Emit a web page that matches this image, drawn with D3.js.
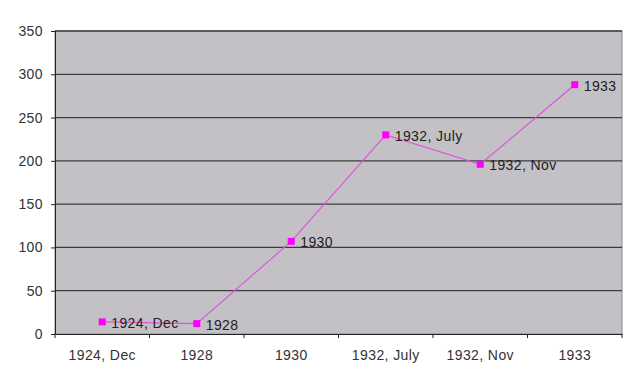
<!DOCTYPE html>
<html>
<head>
<meta charset="utf-8">
<script src="https://cdn.jsdelivr.net/npm/d3@7"></script>
<style>
  body { margin: 0; background: #fff; }
  text { font-family: "Liberation Sans", Arial, sans-serif; letter-spacing: 0.4px; }
</style>
</head>
<body>
<div class="graph"></div>
<script>
const categories = ['1924, Dec', '1928', '1930', '1932, July', '1932, Nov', '1933'];
const seats = [14, 12, 107, 230, 196, 288];
const yTicks = [0, 50, 100, 150, 200, 250, 300, 350];

const margin = {top: 31, right: 18, bottom: 54, left: 55},
    width = 640 - margin.left - margin.right,
    height = 388 - margin.top - margin.bottom;

const records = categories.map((c, i) => ({ label: c, value: seats[i] }));

const scaleX = d3.scaleBand()
    .domain(categories)
    .range([0, width]);

const scaleY = d3.scaleLinear()
    .domain([0, 350])
    .range([height, 0]);

const svg = d3.select('.graph').append('svg')
    .attr('width', 640)
    .attr('height', 388)
  .append('g')
    .attr('transform', 'translate(' + margin.left + ',' + margin.top + ')');

// plot area
svg.append('rect')
    .attr('width', width)
    .attr('height', height)
    .attr('fill', '#c3c1c5')
    .attr('stroke', '#8a8a8a');

// gridlines
svg.selectAll('.grid')
  .data(yTicks.filter(d => d > 0))
  .enter().append('line')
    .attr('x1', 0).attr('x2', width)
    .attr('y1', d => scaleY(d)).attr('y2', d => scaleY(d))
    .attr('stroke', '#3c3c3c')
    .attr('stroke-width', 1.3);

const xAxis = d3.axisBottom(scaleX).tickSize(0).tickPadding(16);
const yAxis = d3.axisLeft(scaleY).tickValues(yTicks).tickSize(4).tickPadding(8);

const gx = svg.append('g')
    .attr('transform', 'translate(0,' + height + ')')
    .call(xAxis);
gx.select('.domain').attr('stroke', '#222');
gx.selectAll('text').attr('font-size', 14).attr('fill', '#333');

// category boundary ticks
gx.selectAll('.bound')
  .data(d3.range(categories.length + 1))
  .enter().append('line')
    .attr('x1', i => i * scaleX.step()).attr('x2', i => i * scaleX.step())
    .attr('y1', 0).attr('y2', 4)
    .attr('stroke', '#222');

const gy = svg.append('g').call(yAxis);
gy.select('.domain').attr('stroke', '#222');
gy.selectAll('line').attr('stroke', '#222');
gy.selectAll('text').attr('font-size', 14).attr('fill', '#333');

const cx = d => scaleX(d.label) + scaleX.bandwidth() / 2;

const line = d3.line()
    .x(cx)
    .y(d => scaleY(d.value));

svg.append('path')
    .datum(records)
    .attr('fill', 'none')
    .attr('stroke', '#dd55dd')
    .attr('stroke-width', 1.2)
    .attr('d', line);

svg.selectAll('.marker')
  .data(records)
  .enter().append('rect')
    .attr('x', d => cx(d) - 3.5)
    .attr('y', d => scaleY(d.value) - 3.5)
    .attr('width', 7)
    .attr('height', 7)
    .attr('fill', '#ff00ff');

svg.selectAll('.lbl')
  .data(records)
  .enter().append('text')
    .attr('x', d => cx(d) + 9)
    .attr('y', d => scaleY(d.value) + 6)
    .attr('font-size', 14)
    .attr('fill', '#222')
    .text(d => d.label);
</script>
</body>
</html>
